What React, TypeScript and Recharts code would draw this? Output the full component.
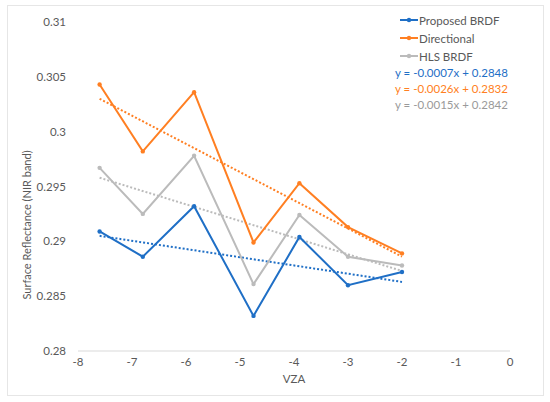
import React from 'react';
import { LineChart, Line, XAxis, YAxis } from 'recharts';

const vza = [-7.6, -6.8, -5.85, -4.75, -3.9, -3.0, -2.0];
const proposed = [0.2909, 0.2886, 0.2932, 0.2832, 0.2904, 0.286, 0.2872];
const directional = [0.3043, 0.2982, 0.3036, 0.2899, 0.2953, 0.2913, 0.2889];
const hls = [0.2967, 0.2925, 0.2978, 0.2861, 0.2924, 0.2886, 0.2878];

// trend line ends
const trendX = [-7.6, -2.0];
const proposedTrend = [0.2905, 0.2863];
const directionalTrend = [0.303, 0.2886];
const hlsTrend = [0.2958, 0.2873];

const xTicks = [-8, -7, -6, -5, -4, -3, -2, -1, 0];
const yTicks = [0.28, 0.285, 0.29, 0.295, 0.3, 0.305, 0.31];

const seriesNames = ['Proposed BRDF', 'Directional', 'HLS BRDF'];
const equations = ['y = -0.0007x + 0.2848', 'y = -0.0026x + 0.2832', 'y = -0.0015x + 0.2842'];

const BLUE = '#1F6FC6';
const ORANGE = '#FF7F22';
const GRAY = '#BBBBBB';
const colors = [BLUE, ORANGE, GRAY];
const FONT = 'Lato, "Liberation Sans", sans-serif';

const toPoints = (xs: number[], ys: number[]) => xs.map((x, i) => ({ x, y: ys[i] }));

const LegendBox = () => (
  <div style={{ position: 'absolute', left: 395, top: 11, fontFamily: FONT, fontSize: 11.5, color: '#595959' }}>
    {seriesNames.map((name, i) => (
      <div key={name} style={{ display: 'flex', alignItems: 'center', height: 18, marginLeft: 5 }}>
        <svg width={18} height={8} style={{ marginRight: 1 }}>
          <line x1={0} y1={4} x2={18} y2={4} stroke={colors[i]} strokeWidth={2} />
          <circle cx={9} cy={4} r={2.2} fill={colors[i]} />
        </svg>
        <span>{name}</span>
      </div>
    ))}
    {equations.map((eq, i) => (
      <div key={eq} style={{ color: colors[i] === GRAY ? '#9a9a9a' : colors[i], height: 16, lineHeight: '16px' }}>
        {eq}
      </div>
    ))}
  </div>
);

const YLabel = () => (
  <text
    x={31}
    y={225}
    transform="rotate(-90 31 225)"
    textAnchor="middle"
    fill="#595959"
    fontSize={11}
    fontFamily={FONT}
  >
    Surface Reflectance (NIR band)
  </text>
);

const App: React.FC = () => {
  return (
    <div style={{ position: 'absolute', left: 0, top: 0, width: 550, height: 402, background: '#fff' }}>
      <div
        style={{
          position: 'absolute',
          left: 7,
          top: 5,
          width: 535,
          height: 389,
          border: '1px solid #e6e6e6',
        }}
      />
      <div style={{ position: 'absolute', left: 0, top: 0 }}>
        <LineChart width={550} height={402} margin={{ top: 22, right: 40, bottom: 19, left: 8 }}>
          <XAxis
            type="number"
            dataKey="x"
            domain={[-8, 0]}
            ticks={xTicks}
            allowDuplicatedCategory={false}
            height={32}
            tickLine={false}
            tickMargin={1}
            axisLine={{ stroke: '#d9d9d9' }}
            tick={{ fill: '#595959', fontSize: 11.5, fontFamily: FONT }}
            label={{ value: 'VZA', position: 'insideBottom', offset: 0, fill: '#595959', fontSize: 11.5, fontFamily: FONT }}
          />
          <YAxis
            type="number"
            domain={[0.28, 0.31]}
            ticks={yTicks}
            width={70}
            tickLine={false}
            axisLine={false}
            tickMargin={6}
            tickFormatter={(v: number) => String(+v.toFixed(3))}
            tick={{ fill: '#595959', fontSize: 11.5, fontFamily: FONT }}
            label={{ content: () => <YLabel /> }}
          />
          <Line data={toPoints(trendX, proposedTrend)} dataKey="y" stroke={BLUE} strokeWidth={2} strokeDasharray="2 2" dot={false} isAnimationActive={false} />
          <Line data={toPoints(trendX, directionalTrend)} dataKey="y" stroke={ORANGE} strokeWidth={2} strokeDasharray="2 2" dot={false} isAnimationActive={false} />
          <Line data={toPoints(trendX, hlsTrend)} dataKey="y" stroke={GRAY} strokeWidth={2} strokeDasharray="2 2" dot={false} isAnimationActive={false} />
          <Line data={toPoints(vza, hls)} dataKey="y" name="HLS BRDF" stroke={GRAY} strokeWidth={2} dot={{ r: 2.2, fill: GRAY, stroke: GRAY, strokeWidth: 0 }} isAnimationActive={false} />
          <Line data={toPoints(vza, directional)} dataKey="y" name="Directional" stroke={ORANGE} strokeWidth={2} dot={{ r: 2.2, fill: ORANGE, stroke: ORANGE, strokeWidth: 0 }} isAnimationActive={false} />
          <Line data={toPoints(vza, proposed)} dataKey="y" name="Proposed BRDF" stroke={BLUE} strokeWidth={2} dot={{ r: 2.2, fill: BLUE, stroke: BLUE, strokeWidth: 0 }} isAnimationActive={false} />
        </LineChart>
      </div>
      <LegendBox />
    </div>
  );
};

export default App;
